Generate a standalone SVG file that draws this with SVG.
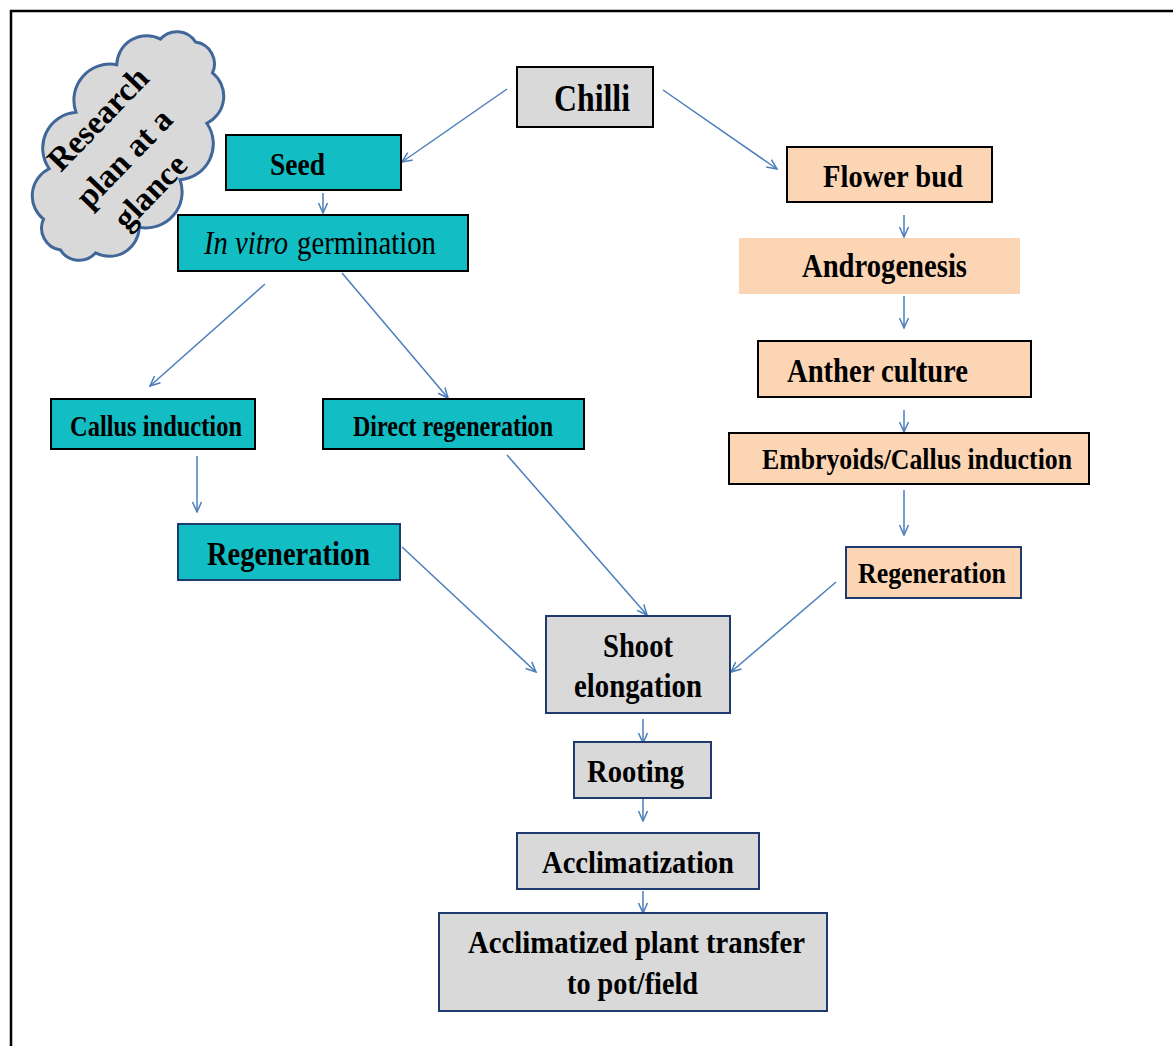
<svg xmlns="http://www.w3.org/2000/svg" width="1173" height="1046" viewBox="0 0 1173 1046">
<defs>
<marker id="ah" viewBox="0 0 12 12" refX="11" refY="6" markerWidth="12" markerHeight="12" markerUnits="userSpaceOnUse" orient="auto">
<path d="M1,1.5 L11,6 L1,10.5" fill="none" stroke="#4a7ebb" stroke-width="1.5"/>
</marker>
</defs>
<style>
.lbl{font-family:"Liberation Serif","Times New Roman",serif;font-weight:bold;fill:#000;text-anchor:middle}
.reg{font-family:"Liberation Serif","Times New Roman",serif;font-weight:normal;fill:#000;text-anchor:start}
.teal{fill:#12bec3;stroke:#000;stroke-width:2}
.tealn{fill:#12bec3;stroke:#1f3a6e;stroke-width:2}
.peach{fill:#fcd5b4;stroke:#000;stroke-width:2}
.peachn{fill:#fcd5b4;stroke:#1f3a6e;stroke-width:2}
.gray{fill:#d9d9d9;stroke:#000;stroke-width:2}
.grayn{fill:#d9d9d9;stroke:#1f3a6e;stroke-width:2}
.con line{stroke:#4a7ebb;stroke-width:1.5;marker-end:url(#ah)}
</style>
<rect x="0" y="0" width="1173" height="1046" fill="#fff"/>
<rect x="11" y="11" width="1200" height="1100" fill="none" stroke="#000" stroke-width="2.5"/>

<g id="cloud">
<path transform="translate(128,146) rotate(-57)" d="M124,0 A22,22 0 0 1 107.4,31 A30,30 0 0 1 62,53.7 A36,36 0 0 1 0,62 A36,36 0 0 1 -62,53.7 A30,30 0 0 1 -107.4,31 A22,22 0 0 1 -124,0 A22,22 0 0 1 -107.4,-31 A30,30 0 0 1 -62,-53.7 A36,36 0 0 1 0,-62 A36,36 0 0 1 62,-53.7 A30,30 0 0 1 107.4,-31 A22,22 0 0 1 124,0 Z" fill="#d9d9d9" stroke="#41679a" stroke-width="3"/>
<g transform="translate(124,158) rotate(-46)">
<text class="lbl" x="10" y="-35" font-size="33">Research</text>
<text class="lbl" x="0" y="11" font-size="33">plan at a</text>
<text class="lbl" x="-6" y="53" font-size="33">glance</text>
</g>
</g>

<g class="con" id="connectors">
<line x1="507" y1="89" x2="402" y2="162"/>
<line x1="663" y1="90" x2="777" y2="169"/>
<line x1="323" y1="193" x2="323" y2="213"/>
<line x1="265" y1="284" x2="150" y2="386"/>
<line x1="342" y1="273" x2="448" y2="398"/>
<line x1="197" y1="456" x2="197" y2="512"/>
<line x1="507" y1="455" x2="647" y2="615"/>
<line x1="402" y1="547" x2="536" y2="672"/>
<line x1="836" y1="582" x2="731" y2="672"/>
<line x1="904" y1="215" x2="904" y2="237"/>
<line x1="904" y1="296" x2="904" y2="328"/>
<line x1="904" y1="410" x2="904" y2="432"/>
<line x1="904" y1="490" x2="904" y2="535"/>
<line x1="643" y1="719" x2="643" y2="743"/>
<line x1="643" y1="799" x2="643" y2="821"/>
<line x1="643" y1="891" x2="643" y2="913"/>
</g>

<g id="chilli"><rect class="gray" x="517" y="67" width="136" height="60"/><text class="lbl" x="592" y="111" font-size="38" textLength="76" lengthAdjust="spacingAndGlyphs">Chilli</text></g>
<g id="seed"><rect class="teal" x="226" y="135" width="175" height="55"/><text class="lbl" x="297.5" y="175" font-size="32" textLength="55" lengthAdjust="spacingAndGlyphs">Seed</text></g>
<g id="invitro"><rect class="teal" x="178" y="215" width="290" height="56"/><text class="reg" x="204" y="254" font-size="33" font-style="italic" textLength="84" lengthAdjust="spacingAndGlyphs">In vitro</text><text class="reg" x="297" y="254" font-size="33" textLength="139" lengthAdjust="spacingAndGlyphs">germination</text></g>
<g id="callus"><rect class="teal" x="51" y="399" width="204" height="50"/><text class="lbl" x="156" y="436" font-size="30" textLength="172" lengthAdjust="spacingAndGlyphs">Callus induction</text></g>
<g id="direct"><rect class="teal" x="323" y="399" width="261" height="50"/><text class="lbl" x="453" y="436" font-size="30" textLength="200" lengthAdjust="spacingAndGlyphs">Direct regeneration</text></g>
<g id="regen1"><rect class="tealn" x="178" y="524" width="222" height="56"/><text class="lbl" x="288.5" y="565" font-size="33" textLength="163" lengthAdjust="spacingAndGlyphs">Regeneration</text></g>
<g id="flowerbud"><rect class="peach" x="787" y="147" width="205" height="55"/><text class="lbl" x="893" y="187" font-size="32" textLength="140" lengthAdjust="spacingAndGlyphs">Flower bud</text></g>
<g id="androgenesis"><rect x="739" y="238" width="281" height="56" fill="#fcd5b4"/><text class="lbl" x="884.5" y="277" font-size="33" textLength="165" lengthAdjust="spacingAndGlyphs">Androgenesis</text></g>
<g id="anther"><rect class="peach" x="758" y="341" width="273" height="56"/><text class="lbl" x="877.5" y="382" font-size="33" textLength="181" lengthAdjust="spacingAndGlyphs">Anther culture</text></g>
<g id="embryoids"><rect class="peach" x="729" y="433" width="360" height="51" stroke-width="2.5"/><text class="lbl" x="917" y="469" font-size="29" textLength="310" lengthAdjust="spacingAndGlyphs">Embryoids/Callus induction</text></g>
<g id="regen2"><rect class="peachn" x="846" y="547" width="175" height="51"/><text class="lbl" x="932" y="583" font-size="30" textLength="148" lengthAdjust="spacingAndGlyphs">Regeneration</text></g>
<g id="shoot"><rect class="grayn" x="546" y="616" width="184" height="97"/><text class="lbl" x="638" y="657" font-size="33" textLength="70" lengthAdjust="spacingAndGlyphs">Shoot</text><text class="lbl" x="638" y="697" font-size="33" textLength="128" lengthAdjust="spacingAndGlyphs">elongation</text></g>
<g id="rooting"><rect class="grayn" x="574" y="742" width="137" height="56"/><text class="lbl" x="635.5" y="782" font-size="32" textLength="97" lengthAdjust="spacingAndGlyphs">Rooting</text></g>
<g id="acclim"><rect class="grayn" x="517" y="833" width="242" height="56"/><text class="lbl" x="638" y="873" font-size="32" textLength="192" lengthAdjust="spacingAndGlyphs">Acclimatization</text></g>
<g id="transfer"><rect class="grayn" x="439" y="913" width="388" height="98"/><text class="lbl" x="636.5" y="953" font-size="32" textLength="337" lengthAdjust="spacingAndGlyphs">Acclimatized plant transfer</text><text class="lbl" x="632.5" y="994" font-size="32" textLength="131" lengthAdjust="spacingAndGlyphs">to pot/field</text></g>
</svg>
